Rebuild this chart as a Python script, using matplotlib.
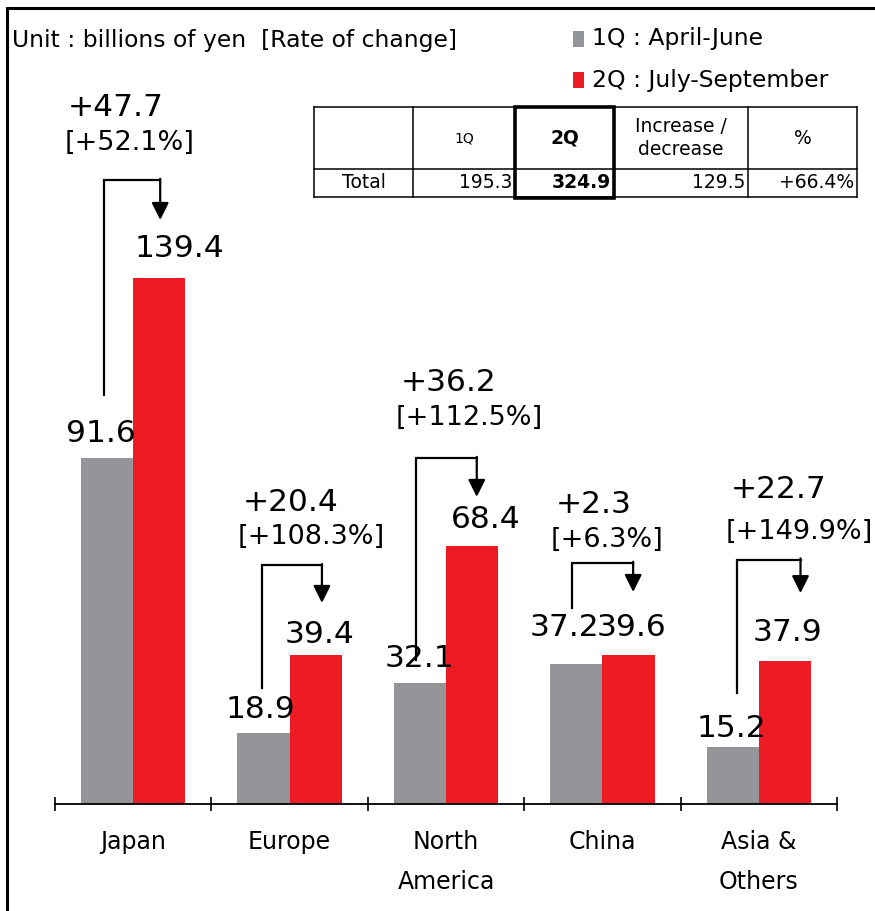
import numpy as np
import matplotlib
matplotlib.use("Agg")
import matplotlib.pyplot as plt
from matplotlib.patches import Rectangle

plt.rcParams["font.family"] = ["DejaVu Sans"]

# ---- data (billions of yen) ----
regions = ["Japan", "Europe", "North\nAmerica", "China", "Asia &\nOthers"]
q1_values = [91.6, 18.9, 32.1, 37.2, 15.2]
q2_values = [139.4, 39.4, 68.4, 39.6, 37.9]
change_values = [47.7, 20.4, 36.2, 2.3, 22.7]
change_rates = [52.1, 108.3, 112.5, 6.3, 149.9]

series_names = ["1Q : April-June", "2Q : July-September"]
total_q1 = 195.3
total_q2 = 324.9
total_change = 129.5
total_rate = 66.4

# ---- layout of the change brackets (y in data units) ----
bracket_top = [165.4, 63.3, 91.7, 63.9, 64.8]
arrow_tip = [154.8, 53.3, 81.4, 56.2, 55.9]
bracket_base = [108.4, 30.7, 38.2, 51.9, 29.4]
stem_shift = [-0.02, -0.01, -0.025, -0.025, 0.03]
head_shift = [0.006, 0.04, 0.03, 0.03, 0.10]
# text placement relative to the bracket corner (pixels)
diff_dx = [-36, -19, -15, -17, -7]
diff_dy = [72, 63, 76, 58, 70]
rate_dx = [-39, -24, -20, -22, -12]
rate_dy = [37, 28, 40, 23, 28]
# value label offsets from the bar top centre (pixels)
q1_dx = [-6, -3, 0, -12, -1]
q2_dx = [20, 4, 14, 3, 3]
q1_lift = [16, 15, 16, 28, 10]
q2_lift = [21, 12, 18, 19, 20]

GRAY = "#939598"
RED = "#ED1C24"

W, H = 875, 911
fig = plt.figure(figsize=(W / 100, H / 100), dpi=100)

PX_PER_UNIT = 3.773
ax_l, ax_r, ax_b, ax_t = 55, 837, 804, 60
ax = fig.add_axes([ax_l / W, (H - ax_b) / H, (ax_r - ax_l) / W, (ax_b - ax_t) / H])
ax.set_facecolor("none")
ax.set_xlim(-0.5, 4.5)
ax.set_ylim(0, (ax_b - ax_t) / PX_PER_UNIT)

x = np.arange(len(regions))
w = 1 / 3
ax.bar(x - w / 2, q1_values, w, color=GRAY, label=series_names[0], zorder=2)
ax.bar(x + w / 2, q2_values, w, color=RED, label=series_names[1], zorder=2)

for s in ["left", "right", "top"]:
    ax.spines[s].set_visible(False)
ax.spines["bottom"].set_linewidth(1.3)
ax.set_yticks([])
ax.set_xticks(np.arange(-0.5, len(regions), 1))
ax.set_xticklabels([])
ax.tick_params(axis="x", direction="inout", length=10, width=1.2, color="black")

for i, name in enumerate(regions):
    ax.annotate(name, xy=(i, 0), xytext=(0, -26), textcoords="offset pixels",
                ha="center", va="top", fontsize=17, linespacing=1.82,
                annotation_clip=False)

# value labels
for i in range(len(regions)):
    ax.annotate(f"{q1_values[i]:.1f}", xy=(i - w / 2, q1_values[i]),
                xytext=(q1_dx[i], q1_lift[i]), textcoords="offset pixels",
                ha="center", va="baseline", fontsize=22.5, zorder=4)
    ax.annotate(f"{q2_values[i]:.1f}", xy=(i + w / 2, q2_values[i]),
                xytext=(q2_dx[i], q2_lift[i]), textcoords="offset pixels",
                ha="center", va="baseline", fontsize=22.5, zorder=4)

# change brackets
for i in range(len(regions)):
    sx = i - w / 2 + stem_shift[i]
    hx = i + w / 2 + head_shift[i]
    ax.plot([sx, sx, hx], [bracket_base[i], bracket_top[i], bracket_top[i]],
            color="black", lw=1.6, solid_joinstyle="miter", zorder=3)
    ax.annotate("", xy=(hx, arrow_tip[i]), xytext=(hx, bracket_top[i] + 0.3),
                arrowprops=dict(arrowstyle="-|>", color="black", lw=1.6,
                                mutation_scale=26, shrinkA=0, shrinkB=0),
                zorder=3)
    ax.annotate(f"+{change_values[i]:.1f}", xy=(sx, bracket_top[i]),
                xytext=(diff_dx[i], diff_dy[i]), textcoords="offset pixels",
                ha="left", va="center", fontsize=22.5)
    ax.annotate(f"[+{change_rates[i]:.1f}%]", xy=(sx, bracket_top[i]),
                xytext=(rate_dx[i], rate_dy[i]), textcoords="offset pixels",
                ha="left", va="center", fontsize=19.5)

# ---- overlay in pixel coordinates: frame, header, legend, summary table ----
ov = fig.add_axes([0, 0, 1, 1], zorder=5)
ov.set_xlim(0, W)
ov.set_ylim(H, 0)
ov.axis("off")
ov.set_facecolor("none")

ov.plot([7, 7, W], [H, 8, 8], color="black", lw=2.2, solid_joinstyle="miter")

ov.text(12, 40, "Unit : billions of yen  [Rate of change]", fontsize=16.9,
        ha="left", va="center")

for yy, col, name in [(39, GRAY, series_names[0]), (80, RED, series_names[1])]:
    ov.add_patch(Rectangle((573, yy - 8), 11, 16, color=col, lw=0))
    ov.text(592, yy, name, fontsize=16.9, ha="left", va="center")

# table grid
cols = [314, 413, 515, 614, 748, 857]
rows = [107, 169, 197]
for xx in cols:
    ov.plot([xx, xx], [rows[0], rows[-1]], color="black", lw=1.1)
for yy in rows:
    ov.plot([cols[0], cols[-1]], [yy, yy], color="black", lw=1.1)
ov.add_patch(Rectangle((cols[2], rows[0]), cols[3] - cols[2], rows[2] - rows[0] + 1,
                       fill=False, ec="black", lw=2.6))

hy = (rows[0] + rows[1]) / 2
dy = (rows[1] + rows[2]) / 2
ov.text((cols[1] + cols[2]) / 2, hy, "1Q", fontsize=10, ha="center", va="center")
ov.text((cols[2] + cols[3]) / 2, hy, "2Q", fontsize=13.5, fontweight="bold",
        ha="center", va="center")
ov.text((cols[3] + cols[4]) / 2, hy, "Increase /\ndecrease", fontsize=13.5,
        ha="center", va="center", linespacing=1.25)
ov.text((cols[4] + cols[5]) / 2, hy, "%", fontsize=13.5, ha="center", va="center")

ov.text((cols[0] + cols[1]) / 2, dy, "Total", fontsize=13.5, ha="center", va="center")
ov.text(cols[2] - 3, dy, f"{total_q1:.1f}", fontsize=13.5, ha="right", va="center")
ov.text(cols[3] - 3, dy, f"{total_q2:.1f}", fontsize=13.5, fontweight="bold",
        ha="right", va="center")
ov.text(cols[4] - 3, dy, f"{total_change:.1f}", fontsize=13.5, ha="right", va="center")
ov.text(cols[5] - 3, dy, f"+{total_rate:.1f}%", fontsize=13.5, ha="right", va="center")

fig.savefig("out.png", dpi=100)
